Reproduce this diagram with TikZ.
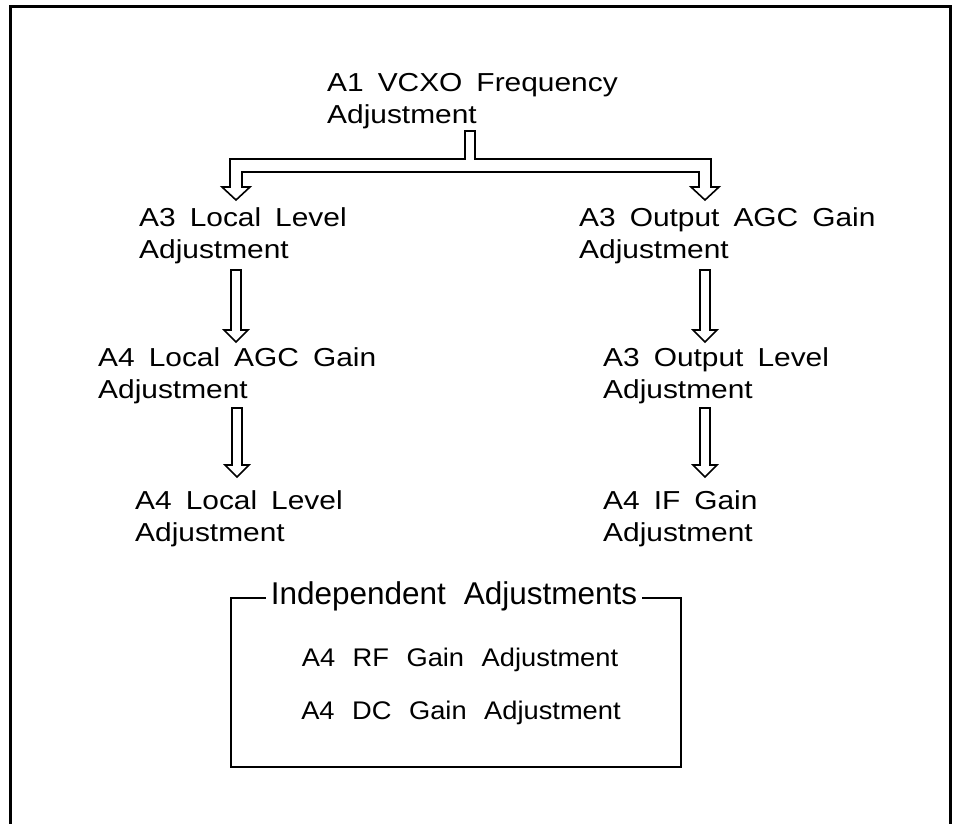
\documentclass[tikz,border=0pt]{standalone}
\usepackage{fontspec}
\setmainfont{Liberation Sans}
\newfontfamily\stepfam[FakeStretch=1.15]{Liberation Sans}
\newfontfamily\itemfam[FakeStretch=1.07]{Liberation Sans}
\usepackage{tikz}
\usetikzlibrary{calc}
\newcommand{\stepfont}{\stepfam\fontsize{26}{32}\selectfont\spaceskip=14pt plus 1pt minus 1pt\relax}
\newcommand{\itemfont}{\itemfam\fontsize{25.5}{31}\selectfont\spaceskip=17.5pt plus 1pt minus 1pt\relax}
\newcommand{\titlefont}{\fontsize{31.5}{36}\selectfont\spaceskip=18pt plus 1pt minus 1pt\relax}
\tikzset{
  stepnode/.style={anchor=west, inner sep=0pt, align=left, font=\stepfont},
  itemnode/.style={inner sep=0pt, font=\itemfont},
  titlenode/.style={inner xsep=5pt, inner ysep=0pt, font=\titlefont},
  frame/.style={line width=2.6pt, line cap=rect},
  hollow/.style={line width=1.6pt, line join=miter, fill=white},
  grpbox/.style={line width=1.8pt},
}
% hollow down arrow from #1 to tip #2
\newcommand{\harrow}[2]{%
  \draw[hollow] let \p1=(#1), \p2=(#2) in
    (\x1-5pt,\y1) -- (\x1-5pt,\y2+12pt) -- (\x1-12pt,\y2+12pt) -- (\x1,\y2)
    -- (\x1+12pt,\y2+12pt) -- (\x1+5pt,\y2+12pt) -- (\x1+5pt,\y1) -- cycle;}
\begin{document}
\begin{tikzpicture}[x=1pt,y=-1pt]
\useasboundingbox (0,0) rectangle (953,824);
% outer frame (open at the bottom)
\draw[frame] (10.5,830) -- (10.5,6.5) -- (950.5,6.5) -- (950.5,830);
% adjustment steps
\node[stepnode] (vcxo) at (327,101) {A1 VCXO Frequency\\Adjustment};
\node[stepnode] (lolvl) at (139,236) {A3 Local Level\\Adjustment};
\node[stepnode] (outagc) at (579,236) {A3 Output AGC Gain\\Adjustment};
\node[stepnode] (loagc) at (98,375.5) {A4 Local AGC Gain\\Adjustment};
\node[stepnode] (outlvl) at (603,375.5) {A3 Output Level\\Adjustment};
\node[stepnode] (lolvlb) at (135,519) {A4 Local Level\\Adjustment};
\node[stepnode] (ifgain) at (603,519) {A4 IF Gain\\Adjustment};
% fork below A1
\coordinate (fork) at (470,131);
\coordinate (tipL) at (236,200);
\coordinate (tipR) at (705,200);
\draw[hollow] let \p0=(fork), \p1=(tipL), \p2=(tipR) in
  (\x0-5pt,\y0) -- (\x0-5pt,\y0-28pt) -- (\x1-6pt,\y0-28pt) -- (\x1-6pt,\y1+13pt)
  -- (\x1-14pt,\y1+13pt) -- (\x1,\y1) -- (\x1+14pt,\y1+13pt) -- (\x1+6pt,\y1+13pt)
  -- (\x1+6pt,\y0-41pt) -- (\x2-6pt,\y0-41pt) -- (\x2-6pt,\y1+13pt)
  -- (\x2-14pt,\y1+13pt) -- (\x2,\y1) -- (\x2+14pt,\y1+13pt) -- (\x2+6pt,\y1+13pt)
  -- (\x2+6pt,\y0-28pt) -- (\x0+5pt,\y0-28pt) -- (\x0+5pt,\y0) -- cycle;
% chains
\coordinate (a1) at (236,270);  \coordinate (b1) at (236,342);
\coordinate (a2) at (237,408);  \coordinate (b2) at (237,477);
\coordinate (a3) at (705,270);  \coordinate (b3) at (705,342);
\coordinate (a4) at (705,408);  \coordinate (b4) at (705,477);
\harrow{a1}{b1}
\harrow{a2}{b2}
\harrow{a3}{b3}
\harrow{a4}{b4}
% independent group
\node[titlenode] (indep) at (454,596) {Independent Adjustments};
\node[itemnode] (rfgain) at (460,660) {A4 RF Gain Adjustment};
\node[itemnode] (dcgain) at (461,713) {A4 DC Gain Adjustment};
\coordinate (bxsw) at (231,767);
\coordinate (bxne) at (681,598);
\draw[grpbox] (indep.west |- bxne) -- (bxne -| bxsw) -- (bxsw) -- (bxsw -| bxne)
  -- (bxne) -- (indep.east |- bxne);
\end{tikzpicture}
\end{document}
